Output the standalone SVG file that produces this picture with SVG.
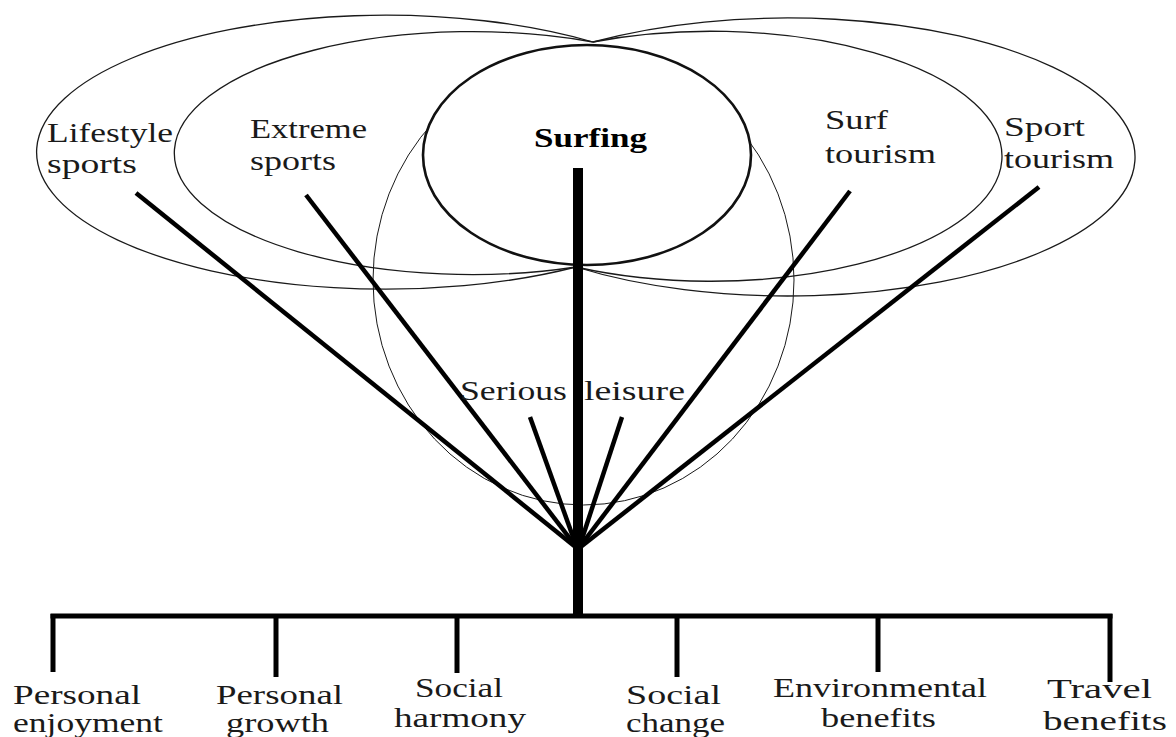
<svg xmlns="http://www.w3.org/2000/svg" width="1176" height="737" viewBox="0 0 1176 737">
<style>
.ell{fill:none;stroke:#1a1a1a;stroke-width:1.3}
.sl{fill:none;stroke:#1a1a1a;stroke-width:1}
.surf{fill:#fff;stroke:#111;stroke-width:2.6}
.ln{stroke:#000;stroke-width:4.5;fill:none}
.stem{stroke:#000;stroke-width:10;fill:none}
.bar{stroke:#000;stroke-width:5;fill:none}
text{font-family:"Liberation Serif","Times New Roman",serif;font-size:28px;fill:#1a1a1a}
.b{font-weight:bold;fill:#000}
</style>
<rect width="1176" height="737" fill="#fff"/>
<g id="lifestyle-sports">
<path class="ell" d="M593 42 A349 137 0 1 0 576 267"/>
<text x="47" y="142" textLength="126" lengthAdjust="spacingAndGlyphs">Lifestyle</text>
<text x="47" y="173" textLength="90" lengthAdjust="spacingAndGlyphs">sports</text>
</g>
<g id="extreme-sports">
<path class="ell" d="M593 42 A298 121.5 0 1 0 576 267"/>
<text x="250" y="138" textLength="117" lengthAdjust="spacingAndGlyphs">Extreme</text>
<text x="250" y="170" textLength="86" lengthAdjust="spacingAndGlyphs">sports</text>
</g>
<g id="surf-tourism">
<path class="ell" d="M593 42 A291 125 0 1 1 576 267"/>
<text x="825" y="129" textLength="63" lengthAdjust="spacingAndGlyphs">Surf</text>
<text x="825" y="163" textLength="111" lengthAdjust="spacingAndGlyphs">tourism</text>
</g>
<g id="sport-tourism">
<path class="ell" d="M593 42 A347 139 0 1 1 576 267"/>
<text x="1004" y="136" textLength="81" lengthAdjust="spacingAndGlyphs">Sport</text>
<text x="1004" y="168" textLength="110" lengthAdjust="spacingAndGlyphs">tourism</text>
</g>
<g id="serious-leisure">
<ellipse class="sl" cx="583.5" cy="280" rx="210.5" ry="225"/>
</g>
<g id="surfing">
<ellipse class="surf" cx="587" cy="155" rx="164" ry="110"/>
</g>
<g id="connectors">
<line class="ln" x1="136" y1="193" x2="578" y2="549"/>
<line class="ln" x1="306" y1="195" x2="578" y2="549"/>
<line class="ln" x1="850" y1="191" x2="578" y2="549"/>
<line class="ln" x1="1039" y1="187" x2="578" y2="549"/>
<line class="ln" x1="530" y1="417" x2="577" y2="548"/>
<line class="ln" x1="622" y1="417" x2="579" y2="548"/>
<line class="stem" x1="578" y1="168" x2="578" y2="618"/>
<line class="bar" x1="50.5" y1="616" x2="1112.5" y2="616"/>
<line class="bar" x1="53" y1="614" x2="53" y2="672"/>
<line class="bar" x1="276" y1="614" x2="276" y2="677"/>
<line class="bar" x1="457" y1="614" x2="457" y2="673"/>
<line class="bar" x1="677" y1="614" x2="677" y2="677"/>
<line class="bar" x1="878" y1="614" x2="878" y2="672"/>
<line class="bar" x1="1110" y1="614" x2="1110" y2="682"/>
</g>
<g id="labels">
<text class="b" x="534" y="147" textLength="113" lengthAdjust="spacingAndGlyphs">Surfing</text>
<text x="460" y="400" textLength="107" lengthAdjust="spacingAndGlyphs">Serious</text>
<text x="584" y="400" textLength="101" lengthAdjust="spacingAndGlyphs">leisure</text>
</g>
<g id="personal-enjoyment">
<text x="13" y="704" textLength="128" lengthAdjust="spacingAndGlyphs">Personal</text>
<text x="13" y="732" textLength="150" lengthAdjust="spacingAndGlyphs">enjoyment</text>
</g>
<g id="personal-growth">
<text x="216" y="704" textLength="127" lengthAdjust="spacingAndGlyphs">Personal</text>
<text x="226" y="732" textLength="103" lengthAdjust="spacingAndGlyphs">growth</text>
</g>
<g id="social-harmony">
<text x="415" y="697" textLength="88" lengthAdjust="spacingAndGlyphs">Social</text>
<text x="394" y="727" textLength="132" lengthAdjust="spacingAndGlyphs">harmony</text>
</g>
<g id="social-change">
<text x="626" y="704" textLength="95" lengthAdjust="spacingAndGlyphs">Social</text>
<text x="626" y="732" textLength="99" lengthAdjust="spacingAndGlyphs">change</text>
</g>
<g id="environmental-benefits">
<text x="773" y="697" textLength="214" lengthAdjust="spacingAndGlyphs">Environmental</text>
<text x="821" y="727" textLength="115" lengthAdjust="spacingAndGlyphs">benefits</text>
</g>
<g id="travel-benefits">
<text x="1047" y="698" textLength="105" lengthAdjust="spacingAndGlyphs">Travel</text>
<text x="1043" y="730" textLength="124" lengthAdjust="spacingAndGlyphs">benefits</text>
</g>
</svg>
